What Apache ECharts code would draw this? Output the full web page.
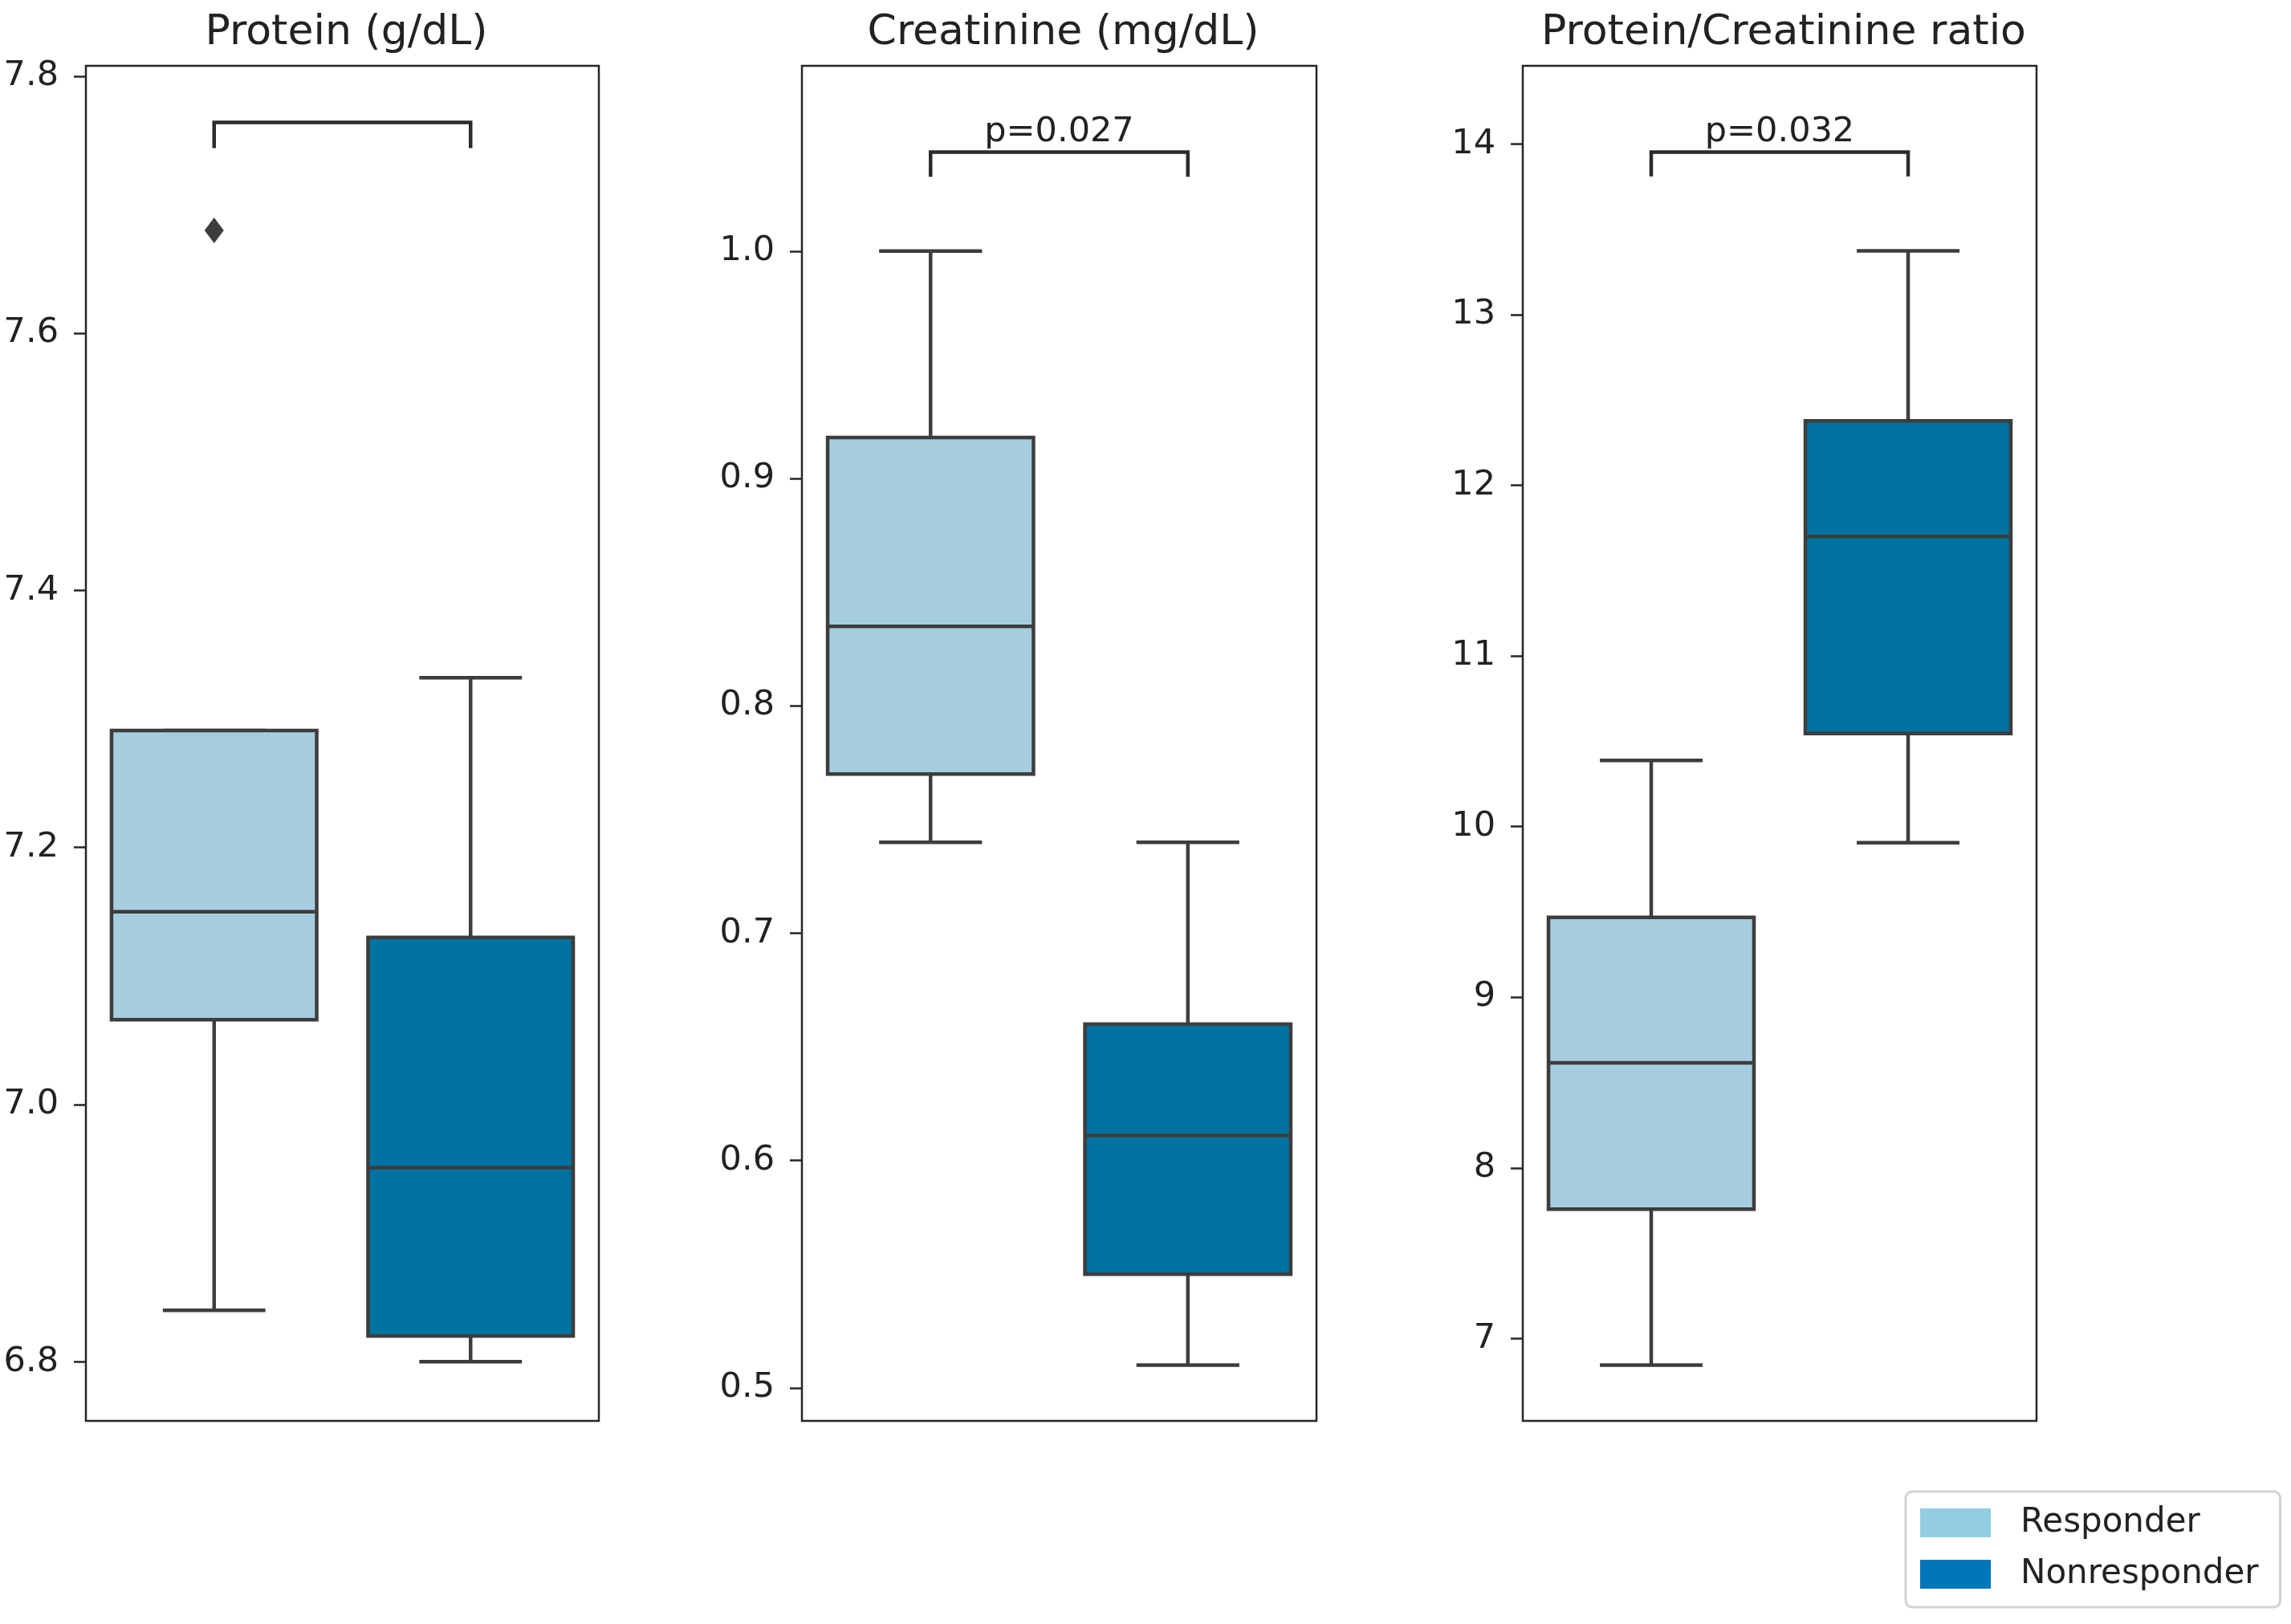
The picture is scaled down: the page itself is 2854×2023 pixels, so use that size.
<!DOCTYPE html>
<html><head><meta charset="utf-8">
<script src="https://cdn.jsdelivr.net/npm/echarts@6/dist/echarts.min.js"></script>
<style>html,body{margin:0;padding:0;background:#fff}#c{width:2854px;height:2023px}</style>
</head><body><div id="c"></div><script>
// ---------- data ----------
const groups = ['Responder', 'Nonresponder'];
const panelTitles = ['Protein (g/dL)', 'Creatinine (mg/dL)', 'Protein/Creatinine ratio'];
// [whiskerLow, Q1, median, Q3, whiskerHigh] per panel
const responderStats = [
  [6.84, 7.066, 7.15, 7.291, 7.291],
  [0.74, 0.770, 0.835, 0.918, 1.00],
  [6.844, 7.758, 8.615, 9.468, 10.387]
];
const nonresponderStats = [
  [6.80, 6.82, 6.951, 7.130, 7.332],
  [0.51, 0.55, 0.611, 0.660, 0.74],
  [9.905, 10.545, 11.70, 12.378, 13.374]
];
// outliers: [panelIndex, groupIndex, value]
const outliers = [[0, 0, 7.68]];
const yMin = [6.754, 0.4855, 6.517];
const yMax = [7.808, 1.0815, 14.458];
const tickValues = [
  [6.8, 7.0, 7.2, 7.4, 7.6, 7.8],
  [0.5, 0.6, 0.7, 0.8, 0.9, 1.0],
  [7, 8, 9, 10, 11, 12, 13, 14]
];
const tickDecimals = [1, 1, 0];
const bracketLow = [7.744, 1.0327, 13.81];
const bracketTop = [7.764, 1.0435, 13.952];
const pLabels = ['', 'p=0.027', 'p=0.032'];

// ---------- style ----------
const FONT = 'DejaVu Sans';
const TXT = '#222222';
const EDGE = '#3d3d3d';
const boxFill = ['#a5cddf', '#0073a3'];
const legendFill = ['#92cde4', '#0077b8'];
const gridLeft = [107, 999, 1897];
const gridWidth = [639, 641, 640];
const gridTop = 82, gridHeight = 1688;

function renderBox(params, api) {
  const x = api.value(0);
  const lo = api.coord([x, api.value(1)]);
  const q1 = api.coord([x, api.value(2)]);
  const md = api.coord([x, api.value(3)]);
  const q3 = api.coord([x, api.value(4)]);
  const hi = api.coord([x, api.value(5)]);
  const band = api.size([1, 0])[0];
  const bw = band * 0.8, cw = band * 0.4;
  const cx = lo[0];
  const ls = { stroke: EDGE, lineWidth: 4.5 };
  return {
    type: 'group',
    children: [
      { type: 'line', shape: { x1: cx, y1: q1[1], x2: cx, y2: lo[1] }, style: ls },
      { type: 'line', shape: { x1: cx, y1: q3[1], x2: cx, y2: hi[1] }, style: ls },
      { type: 'line', shape: { x1: cx - cw / 2, y1: lo[1], x2: cx + cw / 2, y2: lo[1] }, style: ls },
      { type: 'line', shape: { x1: cx - cw / 2, y1: hi[1], x2: cx + cw / 2, y2: hi[1] }, style: ls },
      { type: 'rect', shape: { x: cx - bw / 2, y: q3[1], width: bw, height: q1[1] - q3[1] },
        style: { fill: api.visual('color'), stroke: EDGE, lineWidth: 4.5 } },
      { type: 'line', shape: { x1: cx - bw / 2, y1: md[1], x2: cx + bw / 2, y2: md[1] }, style: ls }
    ]
  };
}

function makeBracket(label) {
  return function (params, api) {
    const a = api.coord([0, api.value(0)]);
    const b = api.coord([0, api.value(1)]);
    const c = api.coord([1, api.value(1)]);
    const d = api.coord([1, api.value(0)]);
    const children = [{
      type: 'polyline',
      shape: { points: [a, b, c, d] },
      style: { stroke: '#2b2b2b', lineWidth: 4.5, fill: null }
    }];
    if (label) {
      children.push({
        type: 'text',
        x: (b[0] + c[0]) / 2, y: b[1] - 3,
        style: { text: label, fontSize: 43, fontFamily: FONT, fill: TXT, align: 'center', verticalAlign: 'bottom' }
      });
    }
    return { type: 'group', children };
  };
}

const grids = [], xAxes = [], yAxes = [], series = [], titles = [];
for (let i = 0; i < 3; i++) {
  grids.push({ left: gridLeft[i], top: gridTop, width: gridWidth[i], height: gridHeight,
    show: true, borderColor: '#262626', borderWidth: 2.5, backgroundColor: 'transparent',
    containLabel: false, outerBoundsMode: 'none' });
  xAxes.push({ type: 'category', gridIndex: i, data: groups, boundaryGap: true,
    axisLine: { show: false }, axisTick: { show: false }, axisLabel: { show: false }, splitLine: { show: false } });
  const dec = tickDecimals[i];
  yAxes.push({ type: 'value', gridIndex: i, min: yMin[i], max: yMax[i],
    axisLine: { show: false }, splitLine: { show: false },
    axisTick: { show: true, length: 15, customValues: tickValues[i], lineStyle: { color: '#262626', width: 2.5 } },
    axisLabel: { show: true, margin: 34, fontSize: 43, fontFamily: FONT, color: TXT,
      customValues: tickValues[i], formatter: v => Number(v).toFixed(dec) } });
  titles.push({ text: panelTitles[i], left: gridLeft[i] + gridWidth[i] / 2, top: 10, textAlign: 'center',
    textStyle: { fontSize: 52, fontWeight: 'normal', fontFamily: FONT, color: TXT } });
  series.push({ type: 'custom', name: groups[0], xAxisIndex: i, yAxisIndex: i,
    itemStyle: { color: boxFill[0] }, renderItem: renderBox,
    encode: { x: 0, y: [1, 2, 3, 4, 5] }, data: [[0].concat(responderStats[i])], z: 2 });
  series.push({ type: 'custom', name: groups[1], xAxisIndex: i, yAxisIndex: i,
    itemStyle: { color: boxFill[1] }, renderItem: renderBox,
    encode: { x: 0, y: [1, 2, 3, 4, 5] }, data: [[1].concat(nonresponderStats[i])], z: 2 });
  series.push({ type: 'custom', name: 'bracket' + i, xAxisIndex: i, yAxisIndex: i,
    renderItem: makeBracket(pLabels[i]), encode: { y: [0, 1] },
    data: [[bracketLow[i], bracketTop[i]]], z: 3 });
  const pts = outliers.filter(o => o[0] === i).map(o => [o[1], o[2]]);
  if (pts.length) {
    series.push({ type: 'scatter', name: 'outliers' + i, xAxisIndex: i, yAxisIndex: i,
      symbol: 'diamond', symbolSize: [24, 32], itemStyle: { color: EDGE, opacity: 1 }, data: pts, z: 4 });
  }
}

const chart = echarts.init(document.getElementById('c'), null, { renderer: 'canvas' });
chart.setOption({
  animation: false,
  backgroundColor: '#ffffff',
  textStyle: { fontFamily: FONT },
  title: titles,
  grid: grids,
  xAxis: xAxes,
  yAxis: yAxes,
  legend: {
    data: [
      { name: groups[0], itemStyle: { color: legendFill[0], borderWidth: 0 } },
      { name: groups[1], itemStyle: { color: legendFill[1], borderWidth: 0 } }
    ],
    orient: 'vertical', left: 2374, top: 1858,
    icon: 'rect', itemWidth: 88, itemHeight: 36, itemGap: 22,
    padding: [18, 27, 20, 18],
    borderColor: '#d3d3d3', borderWidth: 3, borderRadius: 8, backgroundColor: '#ffffff',
    selectedMode: false,
    textStyle: { fontSize: 42, fontFamily: FONT, color: TXT, padding: [0, 0, 0, 32] }
  },
  series: series
});
</script></body></html>
